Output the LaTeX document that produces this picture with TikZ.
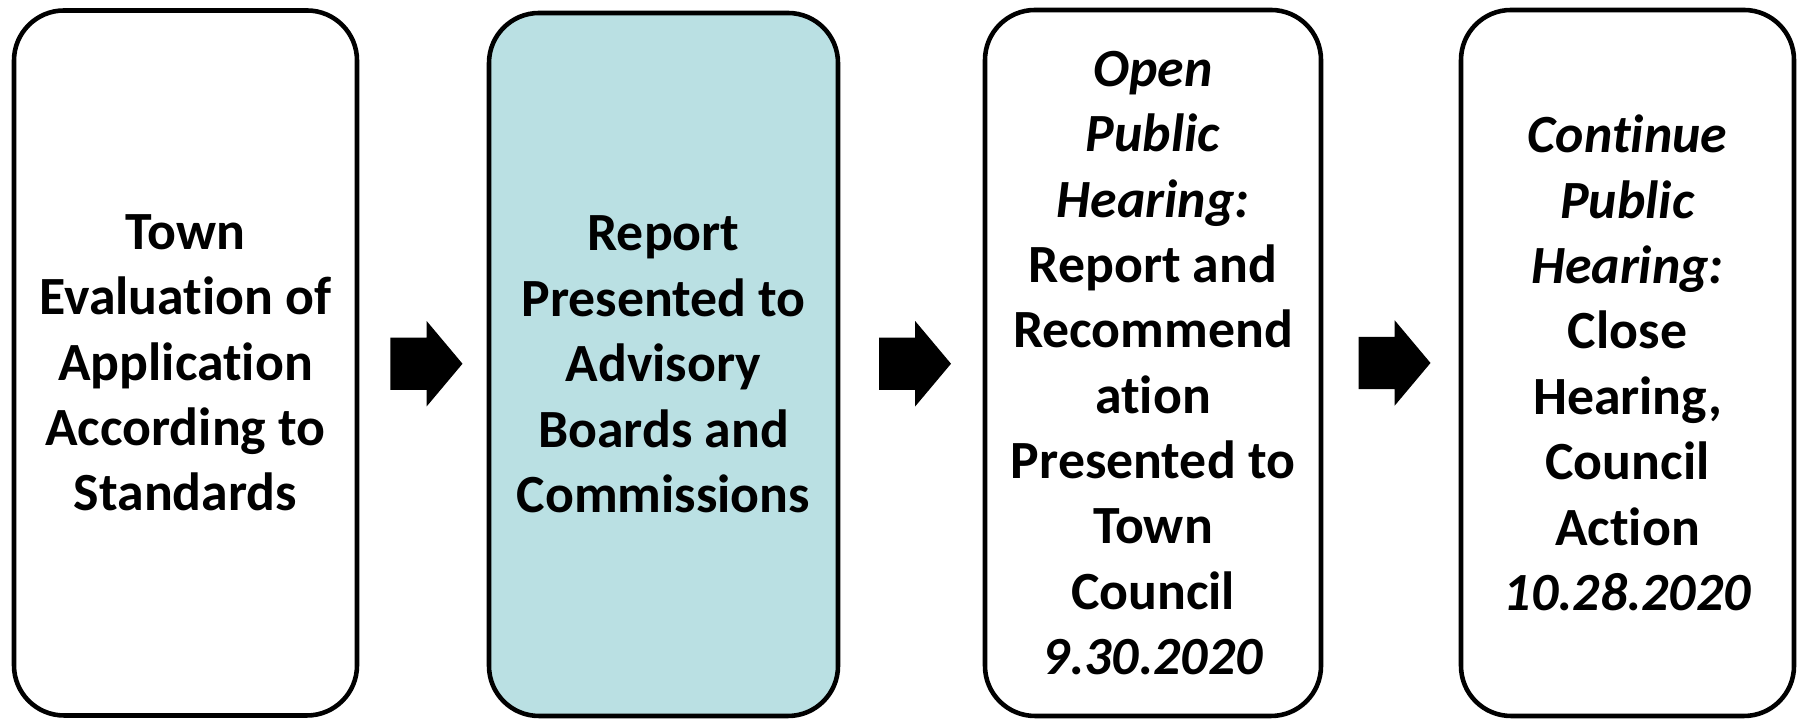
\documentclass[tikz,border=0pt]{standalone}
\usepackage{fontspec}
\setmainfont[Ligatures=NoCommon]{Carlito}
\usepackage{xcolor}
\usepackage{tikz}
\usetikzlibrary{calc, shapes.arrows}
\definecolor{reportfill}{RGB}{186,224,227}

\begin{document}
\begin{tikzpicture}[
  font=\fontsize{15.3pt}{18.6pt}\selectfont\bfseries,
  stepbox/.style={draw=black, fill=white, line width=1.3pt, rounded corners=5mm, align=center, inner sep=0pt},
  blockarrow/.style={single arrow, fill=black, draw=none, inner xsep=0pt, inner ysep=2.55mm, minimum height=7.2mm, single arrow head extend=1.65mm, single arrow tip angle=100, xshift=-0.75mm}
]
\useasboundingbox (0,0) rectangle (18.01,7.2);
\node[stepbox, minimum width=3.43cm, minimum height=7.05cm] (evaluation) at (1.855,3.57) {
  Town\\
  Evaluation of\\
  Application\\
  According to\\
  Standards
};
\node[stepbox, fill=reportfill, minimum width=3.49cm, minimum height=7.03cm] (report) at (6.635,3.555) {
  Report\\
  Presented to\\
  Advisory\\
  Boards and\\
  Commissions
};
\node[stepbox, minimum width=3.36cm, minimum height=7.06cm] (openhearing) at (11.53,3.57) {
  \textit{Open}\\
  \textit{Public}\\
  \textit{Hearing:}\\
  Report and\\
  Recommend\\
  ation\\
  Presented to\\
  Town\\
  Council\\
  \textit{9.30.2020}
};
\node[stepbox, minimum width=3.33cm, minimum height=7.06cm] (continuehearing) at (16.275,3.57) {
  \textit{Continue}\\
  \textit{Public}\\
  \textit{Hearing:}\\
  Close\\
  Hearing,\\
  Council\\
  Action\\
  \textit{10.28.2020}
};
% arrows between the steps
\node[blockarrow] (arrowA) at ($(evaluation.east)!0.5!(report.west)$) {};
\node[blockarrow] (arrowB) at ($(report.east)!0.5!(openhearing.west)$) {};
\node[blockarrow] (arrowC) at ($(openhearing.east)!0.5!(continuehearing.west)$) {};
\end{tikzpicture}
\end{document}
